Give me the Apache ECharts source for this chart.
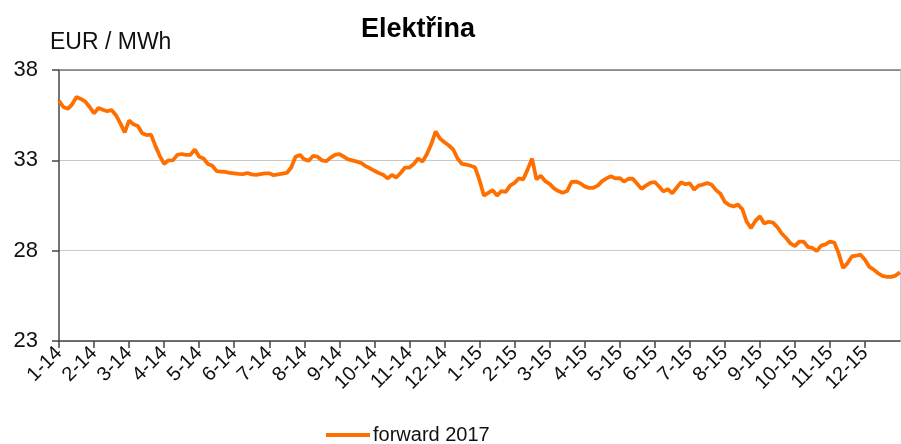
<!DOCTYPE html>
<html><head><meta charset="utf-8">
<script src="https://cdn.jsdelivr.net/npm/echarts@6/dist/echarts.min.js"></script>
<style>html,body{margin:0;padding:0;background:#fff}#c{width:901px;height:444px}</style>
</head><body><div id="c"></div>
<script>
const chartTitle = 'Elektřina';
const unitLabel = 'EUR / MWh';
const seriesName = 'forward 2017';
const monthLabels = ['1-14','2-14','3-14','4-14','5-14','6-14','7-14','8-14','9-14','10-14','11-14','12-14',
  '1-15','2-15','3-15','4-15','5-15','6-15','7-15','8-15','9-15','10-15','11-15','12-15'];
const pointsPerMonth = 8;
const yMin = 23, yMax = 38, yStep = 5;
// forward 2017 price, 8 readings per month, plus the closing value
const forward2017 = [
  36.30, 35.95, 35.85, 36.10, 36.50, 36.40, 36.25, 35.95,
  35.60, 35.90, 35.80, 35.72, 35.78, 35.50, 35.05, 34.55,
  35.20, 35.00, 34.90, 34.50, 34.40, 34.42, 33.80, 33.25,
  32.80, 33.00, 33.00, 33.30, 33.35, 33.30, 33.30, 33.60,
  33.20, 33.10, 32.80, 32.70, 32.40, 32.38, 32.36, 32.30,
  32.28, 32.25, 32.24, 32.30, 32.22, 32.20, 32.24, 32.28,
  32.28, 32.18, 32.22, 32.26, 32.30, 32.60, 33.20, 33.30,
  33.05, 32.98, 33.24, 33.20, 33.00, 32.95, 33.15, 33.30,
  33.35, 33.20, 33.05, 33.00, 32.93, 32.85, 32.68, 32.56,
  32.42, 32.30, 32.20, 32.00, 32.19, 32.05, 32.30, 32.60,
  32.60, 32.80, 33.10, 32.93, 33.35, 33.90, 34.60, 34.20,
  34.00, 33.82, 33.60, 33.10, 32.80, 32.76, 32.70, 32.60,
  31.90, 31.05, 31.20, 31.35, 31.05, 31.30, 31.25, 31.60,
  31.75, 32.00, 31.95, 32.50, 33.10, 31.95, 32.15, 31.85,
  31.70, 31.45, 31.30, 31.20, 31.30, 31.80, 31.82, 31.73,
  31.56, 31.47, 31.48, 31.60, 31.85, 32.00, 32.12, 32.00,
  32.02, 31.82, 31.98, 31.98, 31.70, 31.42, 31.60, 31.75,
  31.80, 31.55, 31.28, 31.40, 31.17, 31.48, 31.78, 31.68,
  31.73, 31.38, 31.60, 31.66, 31.75, 31.65, 31.35, 31.15,
  30.70, 30.53, 30.45, 30.55, 30.30, 29.60, 29.25, 29.65,
  29.90, 29.50, 29.60, 29.55, 29.30, 28.95, 28.70, 28.40,
  28.25, 28.50, 28.50, 28.20, 28.15, 27.98, 28.28, 28.35,
  28.50, 28.45, 27.85, 27.05, 27.30, 27.68, 27.72, 27.78,
  27.50, 27.10, 26.95, 26.75, 26.60, 26.55, 26.55, 26.62,
  26.80
];

const categories = [];
monthLabels.forEach(function (m) {
  for (let k = 0; k < pointsPerMonth; k++) categories.push(m + '|' + k);
});
categories.push('end|0');
const isMonthStart = function (i) { return i % pointsPerMonth === 0 && i < monthLabels.length * pointsPerMonth; };

const FONT = '"Liberation Sans", Arial, sans-serif';
const chart = echarts.init(document.getElementById('c'), null, { renderer: 'canvas' });
chart.setOption({
  animation: false,
  backgroundColor: '#fff',
  title: [
    { text: chartTitle, left: 356, top: 11, textStyle: { fontFamily: FONT, fontSize: 27, fontWeight: 'bold', color: '#000' } },
    { text: unitLabel, left: 45, top: 26, textStyle: { fontFamily: FONT, fontSize: 23, fontWeight: 'normal', color: '#111' } }
  ],
  legend: {
    left: 321, top: 420, itemWidth: 44, itemHeight: 4, itemGap: 10,
    data: [{ name: seriesName, icon: 'rect' }],
    textStyle: { fontFamily: FONT, fontSize: 20, color: '#111', padding: [0, 0, 0, -2] }
  },
  grid: { left: 59, right: 1, top: 70, bottom: 103, containLabel: false },
  xAxis: [{
    type: 'category', data: categories, boundaryGap: false, position: 'bottom',
    axisLine: { lineStyle: { color: '#444', width: 1.5 } },
    axisTick: { show: true, interval: function (i) { return isMonthStart(i); }, length: 7, lineStyle: { color: '#444', width: 1.5 } },
    axisLabel: {
      interval: function (i) { return isMonthStart(i); }, rotate: 45, margin: 9,
      fontFamily: FONT, fontSize: 20, color: '#111',
      formatter: function (v) { return v.split('|')[0]; }
    },
    splitLine: { show: false }
  }, {
    type: 'category', data: categories, boundaryGap: false, position: 'top',
    axisLine: { lineStyle: { color: '#777', width: 1.5 } },
    axisTick: { show: false }, axisLabel: { show: false }
  }],
  yAxis: [{
    type: 'value', min: yMin, max: yMax, interval: yStep,
    axisLine: { show: true, lineStyle: { color: '#444', width: 1.5 } },
    axisTick: { show: true, length: 7, lineStyle: { color: '#444', width: 1.5 } },
    axisLabel: { fontFamily: FONT, fontSize: 22, color: '#111', margin: 21 },
    splitLine: { show: true, lineStyle: { color: '#c8c8c8', width: 1.2 } }
  }, {
    type: 'value', min: yMin, max: yMax, interval: yStep, position: 'right',
    axisLine: { show: true, lineStyle: { color: '#d0d0d0', width: 1 } },
    axisTick: { show: false }, axisLabel: { show: false }, splitLine: { show: false }
  }],
  series: [{
    name: seriesName, type: 'line', data: forward2017, showSymbol: false, symbol: 'none',
    lineStyle: { color: '#ff6f00', width: 3.8 }, itemStyle: { color: '#ff6f00' }
  }]
});
</script></body></html>
